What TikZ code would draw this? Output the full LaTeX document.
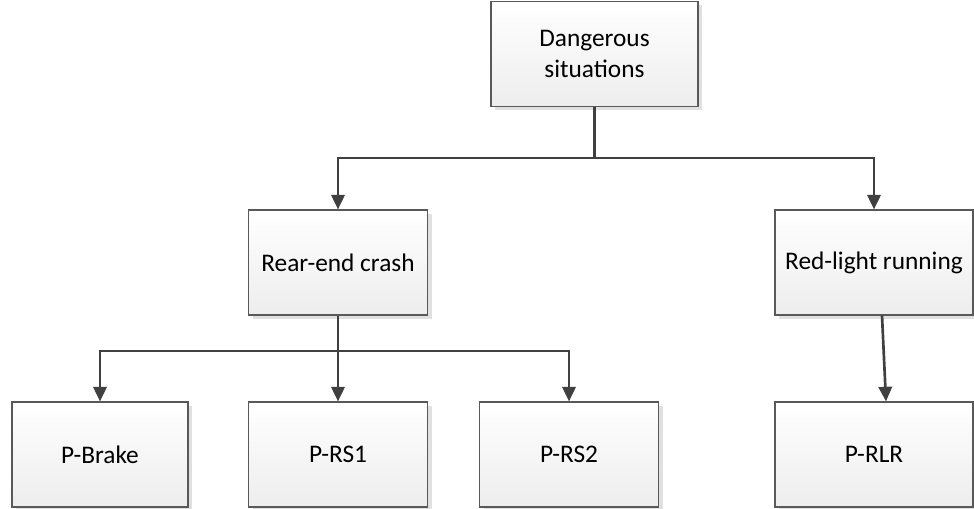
\documentclass[tikz,border=0pt]{standalone}
\usepackage{fontspec}
\setmainfont{Carlito}
\usepackage{tikz}
\usetikzlibrary{positioning,arrows.meta,shadows}

\begin{document}
\begin{tikzpicture}[
    x=0.75pt, y=-0.75pt,
    situation/.style={rectangle, draw=black!65, line width=0.8pt, top color=white, bottom color=black!7,
        drop shadow={shadow xshift=3pt, shadow yshift=-3pt, fill=black!12, opacity=1},
        minimum width=179*0.75pt, minimum height=105*0.75pt, inner sep=2pt, align=center,
        font=\fontsize{19}{23}\selectfont},
    branch/.style={line width=2pt, draw=black!75, -{Triangle[length=11pt, width=10pt]}},
    trunk/.style={line width=2pt, draw=black!75}
]
    \useasboundingbox (0,0) rectangle (974,509);

    % Root
    \node[situation, minimum width=207*0.75pt] (danger) at (594.5,54) {Dangerous\\situations};

    % Crash types
    \node[situation] (rear) at (338,262.5) {Rear-end crash};
    \node[situation, minimum width=198*0.75pt] (redlight) at (874,262.5) {Red-light running};

    % Leaves
    \node[situation, minimum width=176*0.75pt] (pbrake) at (100,454.5) {P-Brake};
    \node[situation] (prs1) at (338,454.5) {P-RS1};
    \node[situation] (prs2) at (569,454.5) {P-RS2};
    \node[situation, minimum width=198*0.75pt] (prlr) at (874,454.5) {P-RLR};

    % Junctions
    \coordinate (j1) at (594.5,158);
    \coordinate (j2) at (338,351);

    % Root to crash types
    \draw[trunk] (danger.south) -- (j1);
    \draw[branch] (j1) -| (rear.north);
    \draw[branch] (j1) -| (redlight.north);

    % Rear-end crash to leaves
    \draw[branch] (rear.south) -- (prs1.north);
    \draw[branch] (j2) -| (pbrake.north);
    \draw[branch] (j2) -| (prs2.north);

    % Red-light running to leaf
    \draw[branch] ([xshift=6pt]redlight.south) -- ([xshift=9pt]prlr.north);
\end{tikzpicture}
\end{document}
